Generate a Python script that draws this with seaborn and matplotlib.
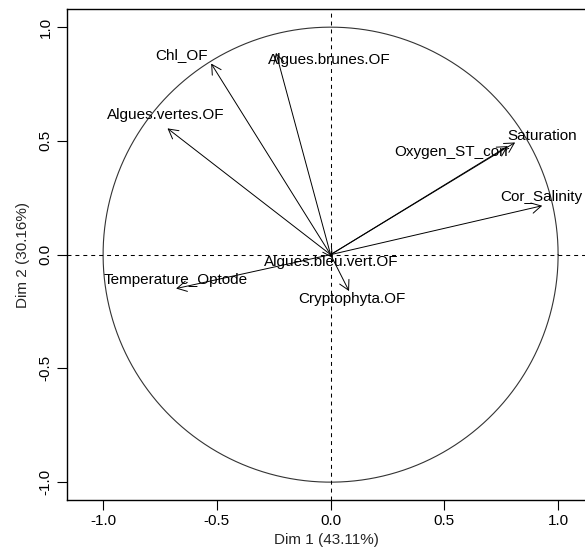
import numpy as np
import pandas as pd
import matplotlib
matplotlib.use("Agg")
import matplotlib.pyplot as plt
import seaborn as sns

# ---- data ----
variables = ["Chl_OF", "Algues.brunes.OF", "Algues.vertes.OF", "Oxygen_ST_corr",
             "Saturation", "Cor_Salinity", "Temperature_Optode",
             "Algues.bleu.vert.OF", "Cryptophyta.OF"]
dim1 = [-0.525, -0.240, -0.717, 0.779, 0.811, 0.930, -0.679, 0.010, 0.081]
dim2 = [0.840, 0.887, 0.555, 0.477, 0.493, 0.215, -0.149, -0.015, -0.160]
label_x = [-0.657, -0.007, -0.723, 0.534, 0.930, 0.925, -0.679, 0.002, 0.095]
label_y = [0.877, 0.855, 0.613, 0.451, 0.521, 0.253, -0.112, -0.033, -0.196]
xlabel = "Dim 1 (43.11%)"
ylabel = "Dim 2 (30.16%)"
ticks = [-1.0, -0.5, 0.0, 0.5, 1.0]
tick_labels = ["-1.0", "-0.5", "0.0", "0.5", "1.0"]

sns.set_style("ticks")
plt.rcParams["font.family"] = ["Liberation Sans", "DejaVu Sans"]
plt.rcParams["font.size"] = 11

W, H = 585, 551
fig = plt.figure(figsize=(W / 100, H / 100), dpi=100)
left, right, top, bottom = 66.7, 586.5, 9.3, 500.0
ax = fig.add_axes([left / W, 1 - bottom / H, (right - left) / W, (bottom - top) / H])
ax.set_xlim(-1.16, -1.16 + (right - left) / 227.5)
ax.set_ylim(-(bottom - top) / 227.5 / 2, (bottom - top) / 227.5 / 2)

# unit circle
theta = np.linspace(0, 2 * np.pi, 400)
circ = pd.DataFrame({"x": np.cos(theta), "y": np.sin(theta)})
sns.lineplot(data=circ, x="x", y="y", sort=False, ax=ax, color="#333333",
             linewidth=0.8, estimator=None)

# dashed axes lines
ax.axhline(0, color="black", linewidth=0.75, linestyle=(0, (3.8, 3.8)))
ax.axvline(0, color="black", linewidth=0.75, linestyle=(0, (3.8, 3.8)))

df = pd.DataFrame({"var": variables, "d1": dim1, "d2": dim2,
                   "lx": label_x, "ly": label_y})
for _, r in df.iterrows():
    ax.annotate("", xy=(r.d1, r.d2), xytext=(0, 0),
                arrowprops=dict(arrowstyle="->,head_length=0.4,head_width=0.22",
                                color="black", lw=0.7, shrinkA=0, shrinkB=0,
                                mutation_scale=17))
    ax.text(r.lx, r.ly, r["var"], ha="center", va="center", fontsize=11,
            color="black")

ax.set_xticks(ticks)
ax.set_xticklabels(tick_labels)
ax.set_yticks(ticks)
ax.set_yticklabels(tick_labels, rotation=90, va="center")
ax.tick_params(direction="out", length=7, width=0.8, pad=3, labelsize=11,
               colors="black")
ax.set_xlabel(xlabel, fontsize=11, labelpad=4)
ax.set_ylabel(ylabel, fontsize=11, labelpad=6)
for s in ax.spines.values():
    s.set_linewidth(1.0)
    s.set_color("black")

fig.savefig("out.png", dpi=100)
